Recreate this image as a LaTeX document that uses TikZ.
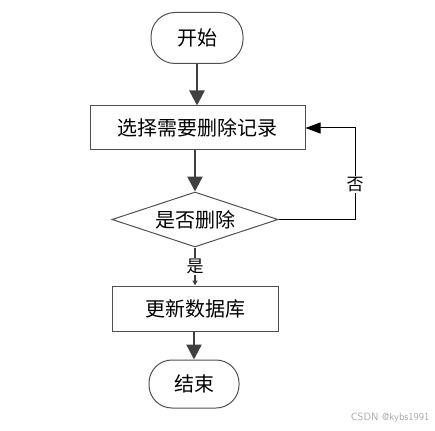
\documentclass[tikz,border=0pt]{standalone}
\usepackage{fontspec}
\newfontfamily\cjk{Noto Sans CJK SC}
\usetikzlibrary{shapes.geometric,arrows.meta}
\definecolor{edge}{HTML}{404040}
\definecolor{frame}{HTML}{505050}
\tikzset{
  term/.style={draw=frame, line width=1pt, rectangle, rounded corners=24pt, minimum width=92pt, minimum height=51pt, inner sep=0pt, font=\cjk\fontsize{20}{22}\selectfont},
  procbox/.style={draw=frame, line width=1pt, rectangle, inner sep=0pt, font=\cjk\fontsize{20}{22}\selectfont},
  decide/.style={draw=frame, line width=1pt, diamond, aspect=3, inner sep=0pt, minimum width=166pt, minimum height=55pt, font=\cjk\fontsize{20}{22}\selectfont},
  thick arrow/.style={draw=edge, line width=2.4pt, -{Triangle[length=15pt,width=15pt]}},
  thin arrow/.style={draw=black, line width=1pt, -{Triangle[length=15pt,width=11pt]}},
  small arrow/.style={draw=edge, line width=1.2pt, -{Triangle[length=5pt,width=5pt]}},
  lbl/.style={fill=white, inner sep=1pt, font=\cjk\fontsize{17}{19}\selectfont},
}
\begin{document}
\begin{tikzpicture}[x=1pt,y=-1pt]
\useasboundingbox (0,0) rectangle (435,430);
\node[term] (start) at (197,38) {开始};
\node[procbox, minimum width=215pt, minimum height=44pt] (select) at (197.5,128) {选择需要删除记录};
\node[decide] (dec) at (195,219.5) {是否删除};
\node[procbox, minimum width=166pt, minimum height=45pt] (update) at (195,308.5) {更新数据库};
\node[term, minimum width=90pt, minimum height=48pt, rounded corners=23pt] (end) at (194,384) {结束};
\coordinate (c1) at (355,219.5);
\coordinate (c2) at (355,128);
\draw[thick arrow] (start) -- (select.north -| start);
\draw[thick arrow] (select.south -| dec) -- (dec.north);
\draw[small arrow] (dec.south) -- node[lbl, pos=0.51] (yes) {是} (update.north);
\draw[thick arrow] (update.south -| end) -- (end.north);
\draw[thin arrow] (dec.east) -- (c1) -- node[lbl, pos=0.38] (no) {否} (c2) -- (select.east);
\node[font=\sffamily\fontsize{10.5}{12}\selectfont, text=black!35, anchor=east] (wm) at (433,418) {CSDN @kybs1991};
\end{tikzpicture}
\end{document}
